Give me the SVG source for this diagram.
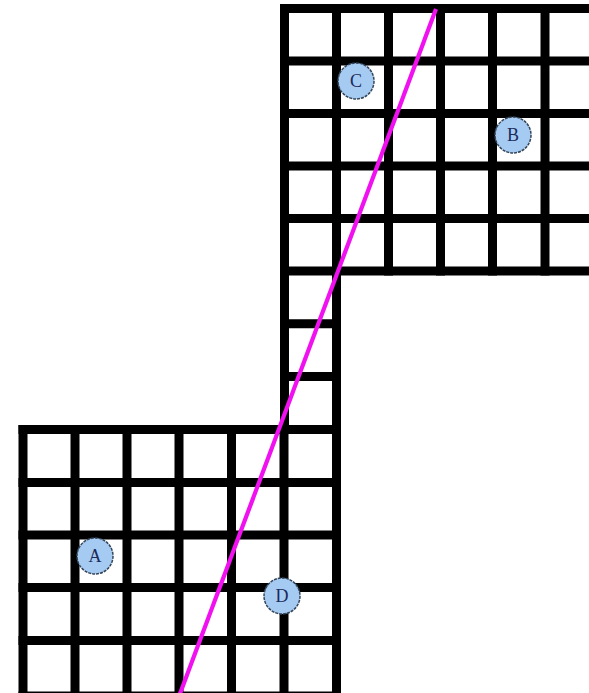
<svg xmlns="http://www.w3.org/2000/svg" width="589" height="693" viewBox="0 0 589 693">
<style>
.g{stroke:#000;stroke-width:9;stroke-linecap:square;fill:none}
.n circle{fill:#a6cbf3;stroke:#34465a;stroke-width:1.5;stroke-dasharray:3 1}
.n text{font-family:"Liberation Serif","DejaVu Serif",serif;font-size:18px;fill:#1c2b5a;text-anchor:middle;dominant-baseline:central}
.c{stroke:#f010f0;stroke-width:4.2;stroke-linecap:butt}
</style>
<rect width="589" height="693" fill="#fff"/>
<g id="grid" class="g">
  <path d="M284.5 8.5H600M284.5 61H600M284.5 113.5H600M284.5 166H600M284.5 218.5H600M284.5 271H336.5M336.5 271H600"/>
  <path d="M284.5 8.5V271M336.5 8.5V271M388.5 8.5V271M440.5 8.5V271M492.5 8.5V271M545 8.5V271"/>
  <path d="M284.5 271V429.5M336.5 271V429.5M284.5 323.8H336.5M284.5 376.6H336.5"/>
  <path d="M23 429.5H336.5M23 482.5H336.5M23 535H336.5M23 587.5H336.5M23 640.5H336.5M23 696H336.5"/>
  <path d="M23 429.5V700M75 429.5V700M127 429.5V700M179 429.5V700M231.5 429.5V700M284 429.5V700M336.5 429.5V700"/>
</g>
<g id="connectors">
  <line class="c" x1="436" y1="9" x2="179.5" y2="695"/>
</g>
<g id="node-C" class="n"><circle cx="356" cy="81" r="18"/><text x="356" y="81">C</text></g>
<g id="node-B" class="n"><circle cx="513" cy="135" r="18"/><text x="513" y="135">B</text></g>
<g id="node-A" class="n"><circle cx="95" cy="556" r="18"/><text x="95" y="556">A</text></g>
<g id="node-D" class="n"><circle cx="282" cy="596" r="18"/><text x="282" y="596">D</text></g>
</svg>
